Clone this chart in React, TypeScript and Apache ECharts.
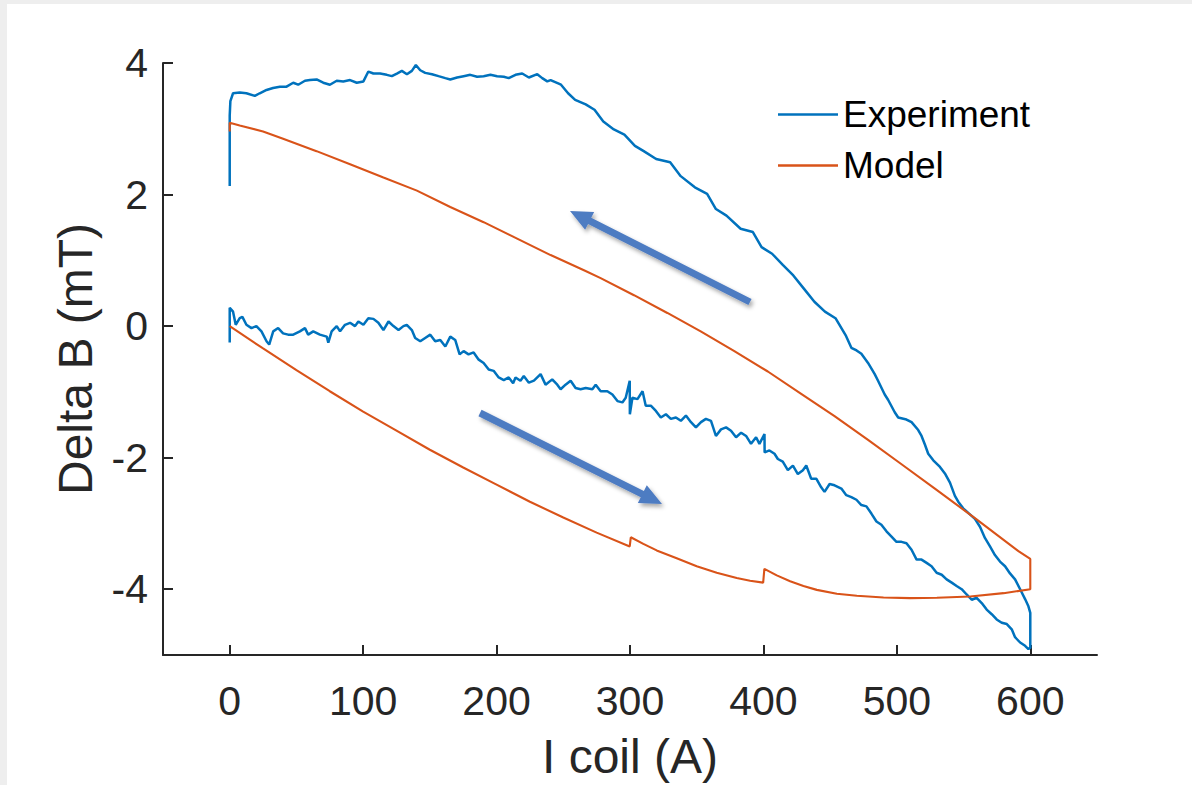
import React, { useEffect, useRef } from "react";
import * as echarts from "echarts";

// ---- data (I coil in A, Delta B in mT) ----
const experimentLowerX = [0, 0, 2.5, 4.5, 7.5, 9.5, 12.5, 16.3, 20, 23.8, 27.6, 29.6, 32.6, 36.3, 40, 43.8, 47.6, 52.6, 56.4, 58.8, 62.6, 67.6, 72.7, 73.9, 76.4, 80.2, 82.7, 86.4, 90.2, 93.9, 96.4, 100.2, 103.9, 107.7, 111.4, 115.2, 119, 122.7, 126.5, 130.2, 132.7, 136.5, 139, 142.8, 146.5, 150.3, 154, 157.8, 161.6, 165.3, 169, 172.3, 175.3, 179, 182.8, 186.6, 190.3, 194.1, 197.8, 201.6, 205.4, 209.1, 212.4, 214.2, 217.9, 220.4, 224.2, 228, 233, 236.7, 241.7, 245.5, 248, 251.7, 255.5, 259.2, 263, 266.8, 271.8, 274.3, 278, 283, 286.8, 290.6, 294.3, 296.8, 299.8, 299.9, 301.8, 305.6, 309.4, 311.8, 315.6, 319.4, 323.1, 326.9, 330.6, 334.4, 338.1, 341.9, 345.7, 349.4, 353.2, 356.9, 360.7, 364.4, 368.2, 372, 375.7, 379.5, 383.3, 387, 390.7, 394.5, 397, 400.8, 400.9, 404.5, 408.3, 410.8, 414.5, 418.3, 422.1, 425.8, 429.6, 432.1, 435.8, 439.6, 443.3, 445.8, 449.6, 453.3, 458.4, 462.1, 465.9, 469.7, 473.4, 477.2, 480.9, 484.7, 488.4, 492.2, 496, 499.7, 503.5, 507.2, 511, 514.8, 518.5, 522.3, 526, 529.8, 533.6, 537.3, 541.1, 544.8, 548.6, 552.3, 556.1, 559.8, 563.6, 567.3, 571.1, 574.8, 578.6, 582.4, 586.1, 588.6, 592.4, 596.1, 598.6, 600];
const experimentLowerY = [-0.25, 0.28, 0.22, 0.02, 0.12, 0.14, 0.02, -0.03, 0, -0.08, -0.23, -0.28, -0.08, -0.03, -0.11, -0.13, -0.13, -0.08, -0.03, -0.13, -0.08, -0.13, -0.16, -0.25, -0.08, 0, -0.08, 0.02, 0.05, 0, 0.07, 0.02, 0.12, 0.11, 0.05, -0.06, 0.07, 0, -0.06, 0, 0.02, -0.06, -0.18, -0.23, -0.18, -0.13, -0.23, -0.21, -0.31, -0.16, -0.21, -0.43, -0.38, -0.43, -0.4, -0.51, -0.56, -0.66, -0.68, -0.78, -0.82, -0.78, -0.87, -0.78, -0.83, -0.76, -0.86, -0.83, -0.73, -0.89, -0.81, -0.89, -0.96, -0.89, -0.83, -0.94, -0.96, -0.94, -0.96, -0.89, -0.99, -0.99, -1.04, -1.14, -1.16, -1.09, -0.83, -1.34, -1.09, -1.11, -0.99, -1.21, -1.21, -1.29, -1.39, -1.34, -1.41, -1.39, -1.44, -1.36, -1.46, -1.54, -1.46, -1.41, -1.44, -1.67, -1.57, -1.54, -1.59, -1.69, -1.62, -1.67, -1.79, -1.69, -1.79, -1.64, -1.92, -1.89, -1.94, -2.02, -2.06, -2.19, -2.12, -2.25, -2.19, -2.12, -2.32, -2.32, -2.45, -2.52, -2.4, -2.42, -2.47, -2.57, -2.6, -2.64, -2.72, -2.74, -2.85, -2.97, -3.02, -3.12, -3.2, -3.28, -3.28, -3.3, -3.4, -3.55, -3.55, -3.6, -3.65, -3.75, -3.78, -3.85, -3.9, -3.95, -4.0, -4.08, -4.16, -4.13, -4.21, -4.31, -4.38, -4.46, -4.51, -4.53, -4.61, -4.73, -4.81, -4.86, -4.91, -4.89];

const experimentUpperX = [600, 598.6, 596.1, 592.4, 588.6, 584.8, 581.1, 577.3, 573.5, 569.8, 566, 562.3, 558.5, 553.5, 549.7, 546, 543.5, 539.8, 536, 532.3, 527.3, 523.5, 521, 518.5, 516, 511, 507.2, 501, 498.4, 493.4, 490.9, 485.9, 483.4, 478.4, 473.4, 469.8, 465.9, 461.9, 454, 446.1, 438.2, 430.3, 422.4, 414.5, 406.5, 398.6, 392.1, 382.9, 372.3, 364.4, 357.8, 348.6, 338, 330.1, 319.6, 310.3, 303.7, 295.8, 287.9, 280, 273.4, 266.8, 258.9, 253.6, 248.3, 240.5, 238, 234.2, 230.5, 224.2, 219.2, 214.2, 209.1, 205.4, 200.4, 195.4, 190.3, 185.4, 180.3, 175.3, 170.4, 165.3, 161.6, 156.5, 151.6, 146.5, 142.8, 139.5, 136.5, 132.8, 129, 125.3, 121.5, 117.7, 112.7, 107.7, 103.9, 100.2, 95.2, 90.2, 85.1, 80.2, 75.1, 70.1, 65.1, 60.1, 56.4, 51.3, 47.6, 42.6, 37.6, 32.5, 27.6, 22.5, 18.8, 12.5, 7.5, 2.5, 0.5, 0, 0];
const experimentUpperY = [-4.36, -4.26, -4.15, -4.0, -3.85, -3.76, -3.65, -3.58, -3.48, -3.35, -3.22, -3.05, -2.93, -2.84, -2.77, -2.67, -2.58, -2.38, -2.24, -2.14, -2.04, -1.94, -1.8, -1.67, -1.58, -1.46, -1.42, -1.39, -1.31, -1.12, -1.04, -0.83, -0.73, -0.56, -0.42, -0.37, -0.33, -0.15, 0.12, 0.22, 0.37, 0.57, 0.77, 0.93, 1.1, 1.2, 1.43, 1.48, 1.68, 1.78, 2.01, 2.11, 2.28, 2.49, 2.54, 2.66, 2.74, 2.91, 2.99, 3.11, 3.29, 3.37, 3.44, 3.54, 3.67, 3.74, 3.72, 3.77, 3.83, 3.78, 3.84, 3.82, 3.77, 3.79, 3.8, 3.82, 3.8, 3.79, 3.82, 3.8, 3.78, 3.75, 3.77, 3.8, 3.83, 3.85, 3.89, 3.97, 3.88, 3.83, 3.88, 3.84, 3.8, 3.82, 3.84, 3.84, 3.87, 3.72, 3.7, 3.74, 3.72, 3.73, 3.67, 3.7, 3.75, 3.74, 3.73, 3.67, 3.7, 3.64, 3.64, 3.62, 3.59, 3.54, 3.5, 3.54, 3.55, 3.54, 3.42, 3.2, 2.13];

const modelLowerX = [0, 25, 50, 75, 100, 125, 150, 175, 200, 225, 250, 275, 299.8, 300.6, 310, 320, 335, 350, 365, 380, 390, 399.8, 400.7, 410, 420, 430, 440, 455, 470, 490, 510, 530, 555, 580, 600, 600];
const modelLowerY = [0, -0.34, -0.67, -0.99, -1.3, -1.59, -1.88, -2.15, -2.41, -2.67, -2.91, -3.14, -3.35, -3.21, -3.31, -3.41, -3.53, -3.65, -3.75, -3.83, -3.87, -3.9, -3.69, -3.79, -3.88, -3.95, -4.01, -4.07, -4.1, -4.125, -4.135, -4.13, -4.11, -4.06, -4.0, -3.54];

const modelUpperX = [591.1, 558.5, 528.5, 503.5, 478.4, 453.3, 428.3, 403.3, 378.2, 353, 328, 303, 278, 265.5, 240.5, 215.4, 190.3, 165.3, 140.3, 115.2, 90.2, 65.1, 40, 25, 7.5, 0, 0];
const modelUpperY = [-3.42, -2.92, -2.47, -2.1, -1.73, -1.37, -1.03, -0.69, -0.38, -0.08, 0.2, 0.47, 0.73, 0.85, 1.08, 1.33, 1.58, 1.81, 2.06, 2.26, 2.46, 2.66, 2.85, 2.96, 3.05, 3.09, 2.96];

const xTicks = [0, 100, 200, 300, 400, 500, 600];
const yTicks = [-4, -2, 0, 2, 4];
const seriesNames = ["Experiment", "Model"];

const zip = (xs: number[], ys: number[]) => xs.map((x, i) => [x, ys[i]]);

function arrowPolygon(x1: number, y1: number, x2: number, y2: number, sw: number, hl: number, hw: number) {
  const dx = x2 - x1, dy = y2 - y1;
  const len = Math.hypot(dx, dy);
  const ux = dx / len, uy = dy / len;
  const nx = -uy, ny = ux;
  const bx = x2 - ux * hl, by = y2 - uy * hl;
  return [
    [x1 + nx * sw, y1 + ny * sw],
    [bx + nx * sw, by + ny * sw],
    [bx + nx * hw, by + ny * hw],
    [x2, y2],
    [bx - nx * hw, by - ny * hw],
    [bx - nx * sw, by - ny * sw],
    [x1 - nx * sw, y1 - ny * sw],
  ];
}

const FONT = "'Liberation Sans', Arial, Helvetica, sans-serif";
const AXIS_COLOR = "#262626";

export default function App() {
  const ref = useRef<HTMLDivElement>(null);
  useEffect(() => {
    if (!ref.current) return;
    const chart = echarts.init(ref.current, null, { renderer: "svg" });
    const experiment = zip(experimentLowerX, experimentLowerY).concat(zip(experimentUpperX, experimentUpperY));
    const model = zip(modelLowerX, modelLowerY).concat(zip(modelUpperX, modelUpperY));
    const arrowStyle = {
      fill: "#4D7BC2",
      shadowBlur: 4,
      shadowColor: "rgba(0,0,0,0.35)",
      shadowOffsetX: 2,
      shadowOffsetY: 3,
    };
    chart.setOption({
      animation: false,
      backgroundColor: "transparent",
      grid: { left: 163, right: 95, top: 63, bottom: 126, containLabel: false },
      legend: {
        orient: "vertical",
        left: 773,
        top: 91,
        itemWidth: 60,
        itemHeight: 2.5,
        itemGap: 14,
        icon: "rect",
        textStyle: { fontSize: 37, color: "#000", fontFamily: FONT },
        data: seriesNames,
      },
      xAxis: {
        type: "value",
        min: -50,
        max: 650,
        name: "I coil (A)",
        nameLocation: "middle",
        nameGap: 77,
        nameTextStyle: { fontSize: 48, color: AXIS_COLOR, fontFamily: FONT },
        axisLine: { show: true, onZero: false, lineStyle: { color: AXIS_COLOR, width: 2 } },
        axisTick: { show: true, inside: true, length: 10, lineStyle: { color: AXIS_COLOR, width: 2 }, customValues: xTicks },
        axisLabel: { fontSize: 41, color: AXIS_COLOR, fontFamily: FONT, margin: 25, customValues: xTicks },
        splitLine: { show: false },
      },
      yAxis: {
        type: "value",
        min: -5,
        max: 4,
        name: "Delta B (mT)",
        nameLocation: "middle",
        nameGap: 64,
        nameTextStyle: { fontSize: 48, color: AXIS_COLOR, fontFamily: FONT },
        axisLine: { show: true, onZero: false, lineStyle: { color: AXIS_COLOR, width: 2 } },
        axisTick: { show: true, inside: true, length: 10, lineStyle: { color: AXIS_COLOR, width: 2 }, customValues: yTicks },
        axisLabel: { fontSize: 41, color: AXIS_COLOR, fontFamily: FONT, margin: 15, customValues: yTicks },
        splitLine: { show: false },
      },
      series: [
        {
          name: seriesNames[0],
          type: "line",
          data: experiment,
          showSymbol: false,
          symbol: "none",
          color: "#0072BD",
          lineStyle: { color: "#0072BD", width: 2.5 },
        },
        {
          name: seriesNames[1],
          type: "line",
          data: model,
          showSymbol: false,
          symbol: "none",
          color: "#D95319",
          lineStyle: { color: "#D95319", width: 2.1 },
        },
      ],
      graphic: [
        { type: "polygon", shape: { points: arrowPolygon(750, 302, 570, 211, 3.5, 22, 10) }, style: arrowStyle, z: 10 },
        { type: "polygon", shape: { points: arrowPolygon(480, 413, 662, 504, 3.5, 22, 10) }, style: arrowStyle, z: 10 },
      ],
    });
    return () => chart.dispose();
  }, []);
  return (
    <div style={{ position: "absolute", left: 0, top: 0, width: 1192, height: 785, background: "#eeeeee", overflow: "hidden" }}>
      <div style={{ position: "absolute", left: 7, top: 4, width: 1185, height: 781, background: "#ffffff" }} />
      <div ref={ref} style={{ position: "absolute", left: 0, top: 0, width: 1192, height: 785 }} />
    </div>
  );
}
